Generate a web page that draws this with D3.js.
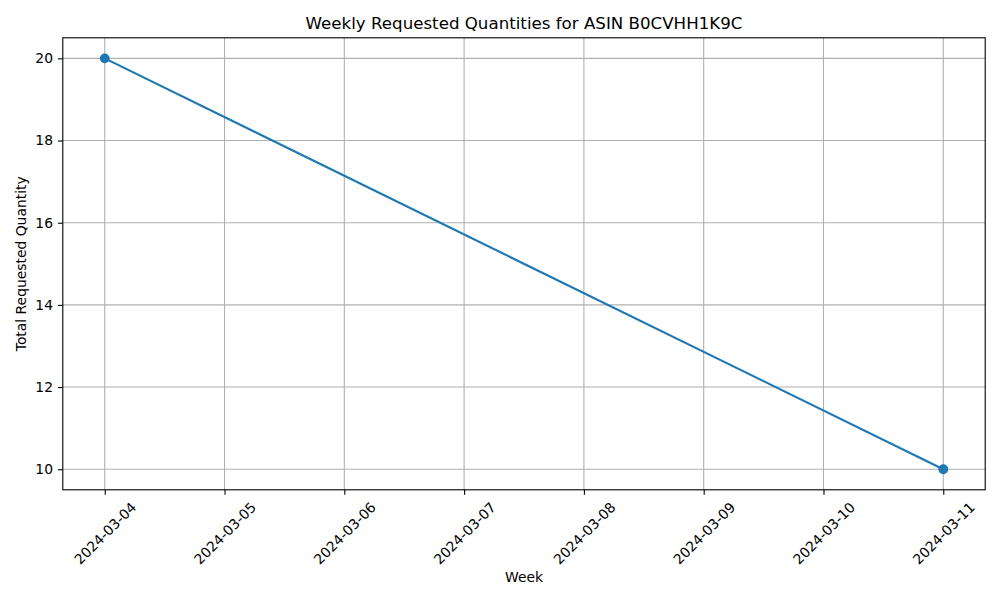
<!DOCTYPE html>
<html>
<head>
<meta charset="utf-8">
<script src="https://cdn.jsdelivr.net/npm/d3@7"></script>
<style>
  body { margin: 0; background: #fff; }
  text { font-family: "DejaVu Sans", sans-serif; fill: #000; }
</style>
</head>
<body>
<div id="chart"></div>
<script>
"use strict";

// data
const weeks = ["2024-03-04", "2024-03-11"];
const quantities = [20, 10];
const yTicks = [10, 12, 14, 16, 18, 20];

const width = 1000, height = 600;
const margin = { top: 37.8, right: 14.8, bottom: 110.2, left: 62.8 };
const tickFont = "13.89px";

const parse = d3.timeParse("%Y-%m-%d");
const points = weeks.map((w, i) => ({ date: parse(w), value: quantities[i] }));

const svg = d3.select("#chart")
	.append("svg")
	.attr("width", width)
	.attr("height", height);

// matplotlib style 5% padding on each side
const xExt = d3.extent(points, d => d.date);
const xPad = (xExt[1] - xExt[0]) * 0.05;
const x = d3.scaleTime()
	.domain([new Date(+xExt[0] - xPad), new Date(+xExt[1] + xPad)])
	.range([margin.left, width - margin.right]);

const yExt = d3.extent(points, d => d.value);
const yPad = (yExt[1] - yExt[0]) * 0.05;
const y = d3.scaleLinear()
	.domain([yExt[0] - yPad, yExt[1] + yPad])
	.range([height - margin.bottom, margin.top]);

const dayTicks = d3.timeDay.range(xExt[0], d3.timeDay.offset(xExt[1], 1));
const fmt = d3.timeFormat("%Y-%m-%d");

// grid
svg.append("g")
	.selectAll("line")
	.data(dayTicks)
	.join("line")
	.attr("x1", d => x(d)).attr("x2", d => x(d))
	.attr("y1", margin.top).attr("y2", height - margin.bottom)
	.attr("stroke", "#b0b0b0").attr("stroke-width", 1.1);

svg.append("g")
	.selectAll("line")
	.data(yTicks)
	.join("line")
	.attr("x1", margin.left).attr("x2", width - margin.right)
	.attr("y1", d => y(d)).attr("y2", d => y(d))
	.attr("stroke", "#b0b0b0").attr("stroke-width", 1.1);

// x axis
const xAxis = svg.append("g")
	.attr("transform", "translate(0," + (height - margin.bottom) + ")")
	.call(d3.axisBottom(x).tickValues(dayTicks).tickFormat(fmt).tickSize(4.9).tickPadding(0));
xAxis.select(".domain").remove();
xAxis.selectAll(".tick line").attr("stroke", "#000").attr("stroke-width", 1.1);
xAxis.selectAll(".tick text")
	.attr("font-size", tickFont)
	.attr("text-anchor", "middle")
	.attr("dy", null)
	.attr("dominant-baseline", "central")
	.each(function() {
		// rotated label box centred under the tick
		const len = this.getComputedTextLength();
		const cy = 9.4 + (len + 15.5) * Math.SQRT1_2 / 2;
		d3.select(this)
			.attr("y", cy)
			.attr("transform", "rotate(-45,0," + cy + ")");
	});

// y axis
const yAxis = svg.append("g")
	.attr("transform", "translate(" + margin.left + ",0)")
	.call(d3.axisLeft(y).tickValues(yTicks).tickSize(4.9).tickPadding(4.9));
yAxis.select(".domain").remove();
yAxis.selectAll(".tick line").attr("stroke", "#000").attr("stroke-width", 1.1);
yAxis.selectAll(".tick text").attr("font-size", tickFont);

// frame
svg.append("rect")
	.attr("x", margin.left).attr("y", margin.top)
	.attr("width", width - margin.left - margin.right)
	.attr("height", height - margin.top - margin.bottom)
	.attr("fill", "none").attr("stroke", "#000").attr("stroke-width", 1.1);

// series
const line = d3.line().x(d => x(d.date)).y(d => y(d.value));
svg.append("path")
	.datum(points)
	.attr("d", line)
	.attr("fill", "none")
	.attr("stroke", "#1f77b4")
	.attr("stroke-width", 2.1);

svg.append("g")
	.selectAll("circle")
	.data(points)
	.join("circle")
	.attr("cx", d => x(d.date))
	.attr("cy", d => y(d.value))
	.attr("r", 4.9)
	.attr("fill", "#1f77b4");

// labels
svg.append("text")
	.attr("x", (margin.left + width - margin.right) / 2)
	.attr("y", 29.3)
	.attr("text-anchor", "middle")
	.attr("font-size", "16.67px")
	.text("Weekly Requested Quantities for ASIN B0CVHH1K9C");

svg.append("text")
	.attr("x", (margin.left + width - margin.right) / 2)
	.attr("y", 581.5)
	.attr("text-anchor", "middle")
	.attr("font-size", tickFont)
	.text("Week");

const yMid = (margin.top + height - margin.bottom) / 2;
svg.append("text")
	.attr("transform", "translate(26," + yMid + ") rotate(-90)")
	.attr("text-anchor", "middle")
	.attr("font-size", tickFont)
	.text("Total Requested Quantity");
</script>
</body>
</html>
